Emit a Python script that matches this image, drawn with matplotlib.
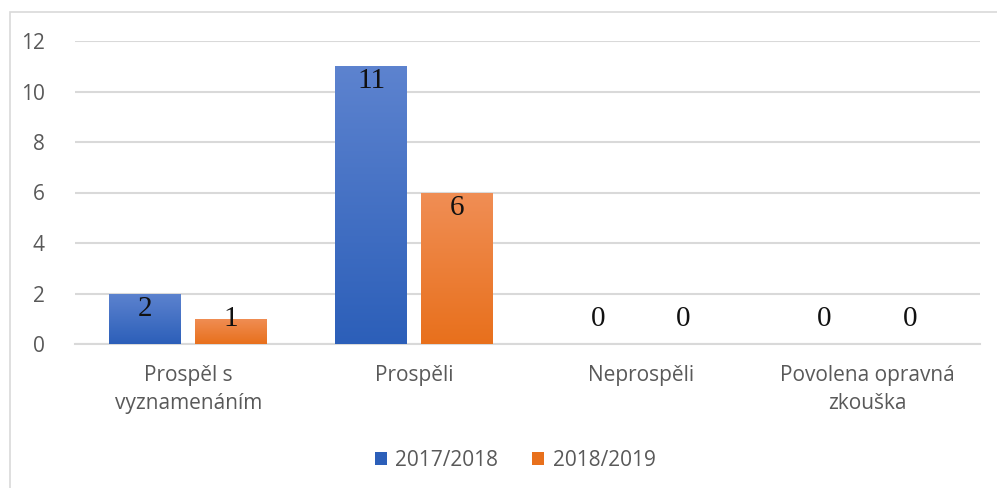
import numpy as np
import matplotlib
matplotlib.use('Agg')
import matplotlib.pyplot as plt
from matplotlib.patches import Rectangle
from matplotlib.colors import LinearSegmentedColormap

categories = ['Prospěl s\nvyznamenáním', 'Prospěli', 'Neprospěli', 'Povolena opravná\nzkouška']
series_names = ['2017/2018', '2018/2019']
vals_2017 = [2, 11, 0, 0]
vals_2018 = [1, 6, 0, 0]
yticks = [0, 2, 4, 6, 8, 10, 12]

BLUE_TOP, BLUE_BOT = '#5d83cf', '#2c5fb9'
ORNG_TOP, ORNG_BOT = '#f08e55', '#e8701c'

plt.rcParams['font.family'] = ['Open Sans', 'DejaVu Sans']

fig = plt.figure(figsize=(9.97, 4.88), dpi=100)
ax = fig.add_axes([75 / 997, 1 - 344 / 488, 905 / 997, 303 / 488])

# outer chart border
fig.patches.append(Rectangle((10 / 997, -0.05), 1.1, 1 - 12 / 488 + 0.05,
                             transform=fig.transFigure, fill=False,
                             edgecolor='#d9d9d9', linewidth=1.2))

x = np.arange(len(categories))
w = 0.318
off = 0.19

grad = np.linspace(0, 1, 256).reshape(-1, 1)
series = [(vals_2017, BLUE_TOP, BLUE_BOT, -off), (vals_2018, ORNG_TOP, ORNG_BOT, off)]
for vals, ctop, cbot, dx in series:
    cmap = LinearSegmentedColormap.from_list('g', [cbot, ctop])
    bars = ax.bar(x + dx, vals, w, color=cbot, zorder=3, linewidth=0)
    for b, v in zip(bars, vals):
        if v > 0:
            bx, by = b.get_x(), b.get_y()
            im = ax.imshow(grad, cmap=cmap, origin='lower', aspect='auto',
                           extent=[bx, bx + b.get_width(), by, by + b.get_height()],
                           zorder=3.5)
            im.set_clip_path(b)
        ax.text(b.get_x() + b.get_width() / 2, max(v - 0.6, 1.0), str(v),
                ha='center', va='center', fontsize=21, color='#111111',
                family='Liberation Serif', zorder=5)

ax.set_xlim(-0.5, len(categories) - 0.5)
ax.set_ylim(0, 12)
ax.set_yticks(yticks)
ax.set_xticks(x)
ax.set_xticklabels(categories, linespacing=1.45, fontsize=15)
ax.yaxis.grid(True, color='#d9d9d9', linewidth=1.5, zorder=0)
ax.set_axisbelow(True)
for s in ['top', 'right', 'left']:
    ax.spines[s].set_visible(False)
ax.spines['bottom'].set_color('#d9d9d9')
ax.spines['bottom'].set_linewidth(1.5)
ax.tick_params(axis='both', length=0, labelsize=15, labelcolor='#595959')
ax.tick_params(axis='y', pad=22)
ax.tick_params(axis='x', pad=15)

handles = [Rectangle((0, 0), 1, 1, facecolor=BLUE_BOT),
           Rectangle((0, 0), 1, 1, facecolor=ORNG_BOT)]
fig.legend(handles, series_names, loc='center', bbox_to_anchor=(515 / 997, 1 - 460 / 488),
           ncol=2, frameon=False, fontsize=15, labelcolor='#595959',
           handlelength=0.6, handleheight=0.6, handletextpad=0.4, columnspacing=1.6)

fig.savefig('out.png', dpi=100)
